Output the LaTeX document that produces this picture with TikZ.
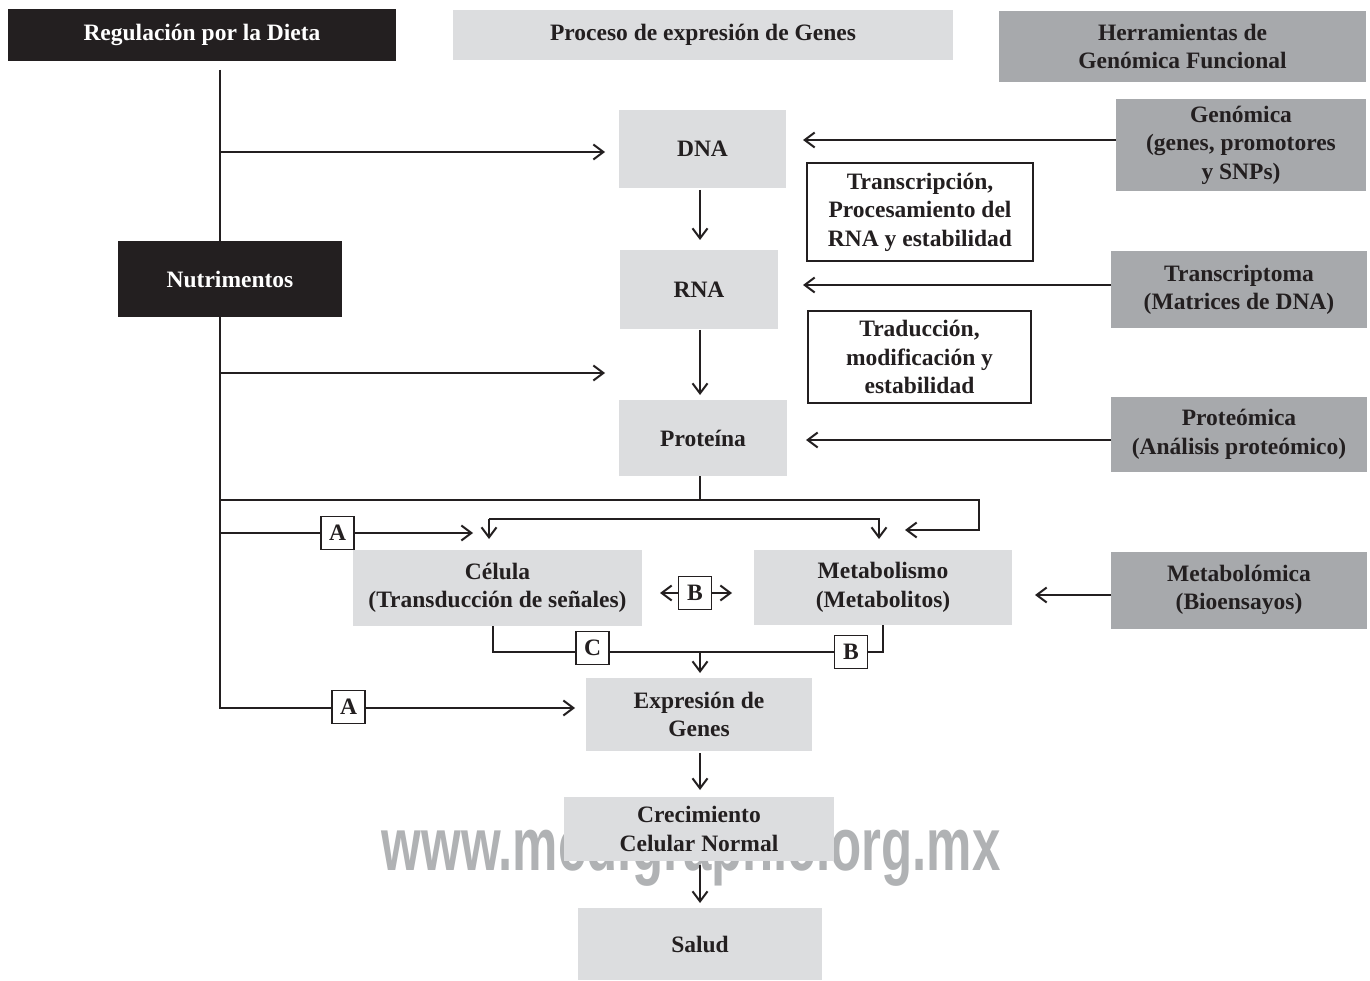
\documentclass[tikz,border=0pt]{standalone}
\usepackage{fontspec}
\setmainfont{Liberation Serif}
\setsansfont{Liberation Sans}
\usetikzlibrary{arrows.meta}
\definecolor{lg}{HTML}{DCDDDF}
\definecolor{dg}{HTML}{A7A9AC}
\definecolor{bk}{HTML}{231F20}
\definecolor{wm}{HTML}{B0B2B4}
\begin{document}
\begin{tikzpicture}[x=1pt,y=-1pt,
  every node/.style={inner sep=0pt, outer sep=0pt, align=center,
    font=\fontsize{23.5}{28.5}\selectfont\bfseries, text=bk},
  light/.style={fill=lg},
  dark/.style={fill=dg},
  blackbox/.style={fill=bk, text=white},
  framed/.style={draw=bk, line width=2.5pt, fill=white},
  tag/.style={draw=bk, line width=1.3pt, fill=white, minimum width=33pt, minimum height=33pt},
  conn/.style={draw=bk, line width=1.5pt},
  arr/.style={conn, -{Straight Barb[length=10pt, width=15pt, line width=2pt]}}]
\useasboundingbox[fill=white] (0,0) rectangle (1370,981);

% watermark
\node[text=wm, font=\fontsize{75}{75}\selectfont\sffamily\bfseries, anchor=base] (wmk) at (691,870) {\scalebox{0.68}[1]{www.medigraphic.org.mx}};

% header boxes
\node[blackbox, minimum width=388pt, minimum height=52pt] (reg) at (202,35) {Regulación por la Dieta};
\node[light, minimum width=500pt, minimum height=50pt] (proc) at (703,35) {Proceso de expresión de Genes};
\node[dark, minimum width=367pt, minimum height=71pt] (herr) at (1182.5,46.5) {Herramientas de\\Genómica Funcional};

% right column
\node[dark, minimum width=250pt, minimum height=92pt] (gen) at (1241,145) {Genómica\\(genes, promotores\\y SNPs)};
\node[dark, minimum width=256pt, minimum height=77pt] (tcp) at (1239,290) {Transcriptoma\\(Matrices de DNA)};
\node[dark, minimum width=256pt, minimum height=75pt] (prm) at (1239,434.5) {Proteómica\\(Análisis proteómico)};
\node[dark, minimum width=256pt, minimum height=77pt] (mtb) at (1239,590) {Metabolómica\\(Bioensayos)};

% central column
\node[light, minimum width=167pt, minimum height=78pt] (dna) at (702.5,149) {DNA};
\node[light, minimum width=158pt, minimum height=79pt] (rna) at (699,289.5) {RNA};
\node[light, minimum width=168pt, minimum height=76pt] (prot) at (703,438) {Proteína};
\node[framed, minimum width=226pt, minimum height=98pt] (trc) at (920,212) {Transcripción,\\Procesamiento del\\RNA y estabilidad};
\node[framed, minimum width=223pt, minimum height=92pt] (trd) at (919.5,357) {Traducción,\\modificación y\\estabilidad};
\node[blackbox, minimum width=224pt, minimum height=76pt] (nut) at (230,279) {Nutrimentos};

\node[light, minimum width=289pt, minimum height=76pt] (cel) at (497.5,588) {Célula\\(Transducción de señales)};
\node[light, minimum width=258pt, minimum height=75pt] (met) at (883,587.5) {Metabolismo\\(Metabolitos)};
\node[light, minimum width=226pt, minimum height=73pt] (expr) at (699,714.5) {Expresión de\\Genes};
\node[light, minimum width=270pt, minimum height=64pt] (crec) at (699,829) {Crecimiento\\Celular Normal};
\node[light, minimum width=244pt, minimum height=72pt] (salud) at (700,944) {Salud};

% tags
\node[tag] (A1) at (337.5,533) {A};
\node[tag] (A2) at (348.5,707) {A};
\node[tag] (B1) at (695,593) {B};
\node[tag] (C) at (592.5,648) {C};
\node[tag] (B2) at (851,652) {B};

% trunk coordinates
\coordinate (t0) at (220,70);
\coordinate (tDNA) at (220,152);
\coordinate (tRNA) at (220,373);
\coordinate (tP) at (220,500);
\coordinate (tA1) at (220,533);
\coordinate (tA2) at (220,708);

% left trunk
\draw[conn] (t0) -- (t0 |- nut.north);
\draw[conn] (t0 |- nut.south) -- (tA2) -- (A2.west |- tA2);
\draw[arr] (tDNA) -- (605,152);
\draw[arr] (tRNA) -- (605,373);
\draw[conn] (tA1) -- (A1.west);
\draw[arr] (A1.east) -- (473,533);
\draw[arr] (A2.east |- tA2) -- (575,708);

% central chain
\draw[arr] (700,190) -- (700,240);
\draw[arr] (700,330) -- (700,395);
\draw[arr] (gen.west |- 0,140) -- (803,140);
\draw[arr] (tcp.west |- 0,285) -- (803,285);
\draw[arr] (prm.west |- 0,440) -- (806,440);
\draw[arr] (mtb.west |- 0,595) -- (1035,595);

% protein distribution
\draw[conn] (prot.south -| 700,0) -- (700,500);
\draw[arr] (tP) -- (979,500) -- (979,530) -- (905,530);
\draw[arr] (489,519) -- (489,539);
\draw[arr] (489,519) -- (879,519) -- (879,539);

% B arrows between Celula and Metabolismo
\draw[arr] (B1.west) -- (660,593);
\draw[arr] (B1.east) -- (732,593);

% to Expresion de genes
\draw[conn] (cel.south -| 493,0) -- (493,652) -- (C.west |- 0,652);
\draw[conn] (C.east |- 0,652) -- (B2.west);
\draw[conn] (B2.east) -- (883,652) -- (met.south -| 883,0);
\draw[arr] (700,652) -- (700,673);
\draw[arr] (700,753) -- (700,790);
\draw[arr] (700,865) -- (700,903);
\end{tikzpicture}
\end{document}
